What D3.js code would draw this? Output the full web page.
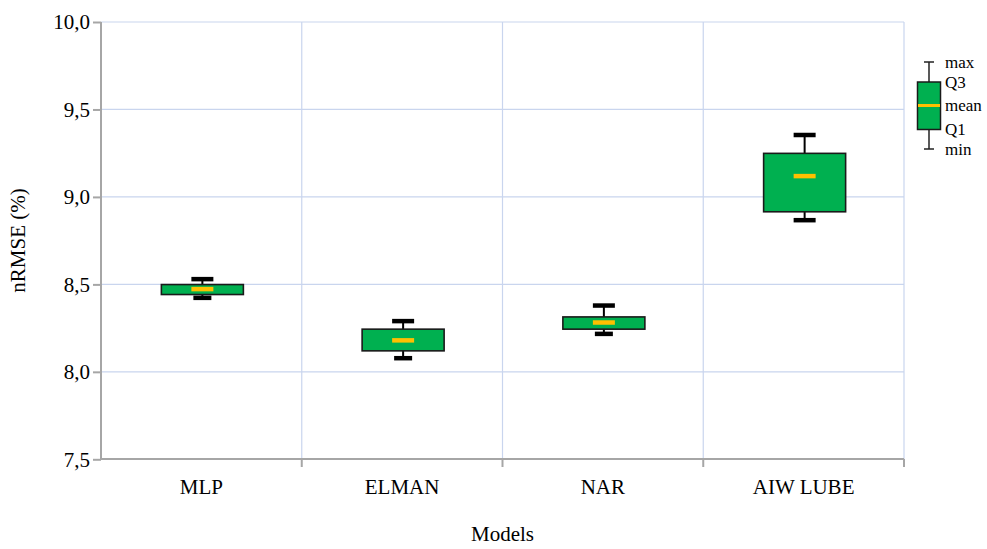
<!DOCTYPE html>
<html>
<head>
<meta charset="utf-8">
<script src="https://cdn.jsdelivr.net/npm/d3@7"></script>
<style>
  html, body { margin: 0; padding: 0; background: #fff; }
  svg, svg text { font-family: 'Liberation Serif', 'Times New Roman', Times, 'Nimbus Roman', 'DejaVu Serif', serif !important; }
</style>
</head>
<body>
<svg id="chart" width="987" height="549"></svg>
<script>
// nRMSE distribution per forecasting model
const models = ["MLP", "ELMAN", "NAR", "AIW LUBE"];
const minVals  = [8.423, 8.078, 8.217, 8.867];
const q1Vals   = [8.442, 8.120, 8.244, 8.915];
const meanVals = [8.473, 8.180, 8.282, 9.119];
const q3Vals   = [8.499, 8.244, 8.314, 9.249];
const maxVals  = [8.530, 8.290, 8.379, 9.354];
const yTicks = [7.5, 8.0, 8.5, 9.0, 9.5, 10.0];
const legendLabels = ["max", "Q3", "mean", "Q1", "min"];

const rows = models.map((m, i) => ({
  model: m, min: minVals[i], q1: q1Vals[i], mean: meanVals[i], q3: q3Vals[i], max: maxVals[i]
}));

const svg = d3.select("#chart");
const margin = { left: 101, right: 83, top: 22, bottom: 90 };
const W = 987, H = 549;
const x0 = margin.left, x1 = W - margin.right;
const y0 = H - margin.bottom, y1 = margin.top;

const x = d3.scaleBand().domain(models).range([x0, x1]).paddingInner(0).paddingOuter(0);
const y = d3.scaleLinear().domain([7.5, 10]).range([y0 + 0.3, y1]);

const gridColor = "#c9d5ee";
const axisColor = "#a6a6a6";
const fmt = v => d3.format(".1f")(v).replace(".", ",");

// horizontal gridlines
svg.append("g").selectAll("line").data(yTicks.slice(1)).join("line")
  .attr("x1", x0).attr("x2", x1)
  .attr("y1", d => y(d)).attr("y2", d => y(d))
  .attr("stroke", gridColor).attr("stroke-width", 1.2);

// vertical gridlines at category boundaries
const bounds = models.map(m => x(m) + x.bandwidth());
svg.append("g").selectAll("line").data(bounds).join("line")
  .attr("x1", d => d).attr("x2", d => d)
  .attr("y1", y1).attr("y2", y0)
  .attr("stroke", gridColor).attr("stroke-width", 1.2);

// left axis
const yAxis = svg.append("g").attr("transform", `translate(${x0},0)`)
  .call(d3.axisLeft(y).tickValues(yTicks).tickFormat(fmt).tickSize(8).tickPadding(3));
yAxis.attr("font-family", null);
yAxis.select(".domain").attr("stroke", axisColor).attr("stroke-width", 2).attr("d", `M0,${y0}V${y1}`);
yAxis.selectAll(".tick line").attr("stroke", axisColor).attr("stroke-width", 2);
yAxis.selectAll(".tick text").attr("fill", "#000").attr("font-size", 21);

// bottom axis
const xAxis = svg.append("g").attr("transform", `translate(0,${y0})`)
  .call(d3.axisBottom(x).tickSize(0).tickPadding(20));
xAxis.attr("font-family", null);
xAxis.select(".domain").attr("stroke", axisColor).attr("stroke-width", 2).attr("d", `M${x0},0H${x1}`);
xAxis.selectAll(".tick text").attr("fill", "#000").attr("font-size", 21);
xAxis.append("g").selectAll("line").data(bounds).join("line")
  .attr("x1", d => d).attr("x2", d => d).attr("y1", 0).attr("y2", 8)
  .attr("stroke", axisColor).attr("stroke-width", 2);

// axis titles
svg.append("text")
  .attr("transform", `translate(25,${(y0 + y1) / 2}) rotate(-90)`)
  .attr("text-anchor", "middle").attr("font-size", 21).text("nRMSE (%)");
svg.append("text")
  .attr("x", (x0 + x1) / 2).attr("y", 541)
  .attr("text-anchor", "middle").attr("font-size", 21).text("Models");

// boxes
const boxW = 82, capMax = 22, capMin = 18;
const g = svg.append("g").selectAll("g").data(rows).join("g")
  .attr("transform", d => `translate(${x(d.model) + x.bandwidth() / 2 + 1},0)`);

g.append("line")
  .attr("x1", 0).attr("x2", 0)
  .attr("y1", d => y(d.max)).attr("y2", d => y(d.min))
  .attr("stroke", "#000").attr("stroke-width", 2);
g.append("line")
  .attr("x1", -capMax / 2).attr("x2", capMax / 2)
  .attr("y1", d => y(d.max)).attr("y2", d => y(d.max))
  .attr("stroke", "#000").attr("stroke-width", 4.5);
g.append("line")
  .attr("x1", d => -(d.model === "AIW LUBE" ? capMax : capMin) / 2)
  .attr("x2", d => (d.model === "AIW LUBE" ? capMax : capMin) / 2)
  .attr("y1", d => y(d.min)).attr("y2", d => y(d.min))
  .attr("stroke", "#000").attr("stroke-width", 4.5);
g.append("rect")
  .attr("x", -boxW / 2).attr("width", boxW)
  .attr("y", d => y(d.q3)).attr("height", d => y(d.q1) - y(d.q3))
  .attr("fill", "#00b050").attr("stroke", "#1a1a1a").attr("stroke-width", 1.6);
g.append("line")
  .attr("x1", -11).attr("x2", 11)
  .attr("y1", d => y(d.mean)).attr("y2", d => y(d.mean))
  .attr("stroke", "#ffc000").attr("stroke-width", 4.5);

// legend glyph
const lg = svg.append("g").attr("transform", "translate(929,0)");
const lY = { max: 62, q3: 82, mean: 105.5, q1: 129.5, min: 149 };
lg.append("line").attr("x1", 0).attr("x2", 0).attr("y1", lY.max).attr("y2", lY.min)
  .attr("stroke", "#222").attr("stroke-width", 1.5);
lg.append("line").attr("x1", -5).attr("x2", 5).attr("y1", lY.max).attr("y2", lY.max)
  .attr("stroke", "#222").attr("stroke-width", 1.5);
lg.append("line").attr("x1", -5).attr("x2", 5).attr("y1", lY.min).attr("y2", lY.min)
  .attr("stroke", "#222").attr("stroke-width", 1.5);
lg.append("rect").attr("x", -11.5).attr("width", 23).attr("y", lY.q3).attr("height", lY.q1 - lY.q3)
  .attr("fill", "#00b050").attr("stroke", "#1a1a1a").attr("stroke-width", 1.5);
lg.append("line").attr("x1", -11).attr("x2", 11).attr("y1", lY.mean).attr("y2", lY.mean)
  .attr("stroke", "#ffc000").attr("stroke-width", 3);
const lPos = [lY.max, lY.q3, lY.mean, lY.q1, lY.min];
lg.append("g").selectAll("text").data(legendLabels).join("text")
  .attr("x", 16).attr("y", (d, i) => lPos[i]).attr("dy", "0.35em")
  .attr("font-size", 17).text(d => d);
</script>
</body>
</html>
